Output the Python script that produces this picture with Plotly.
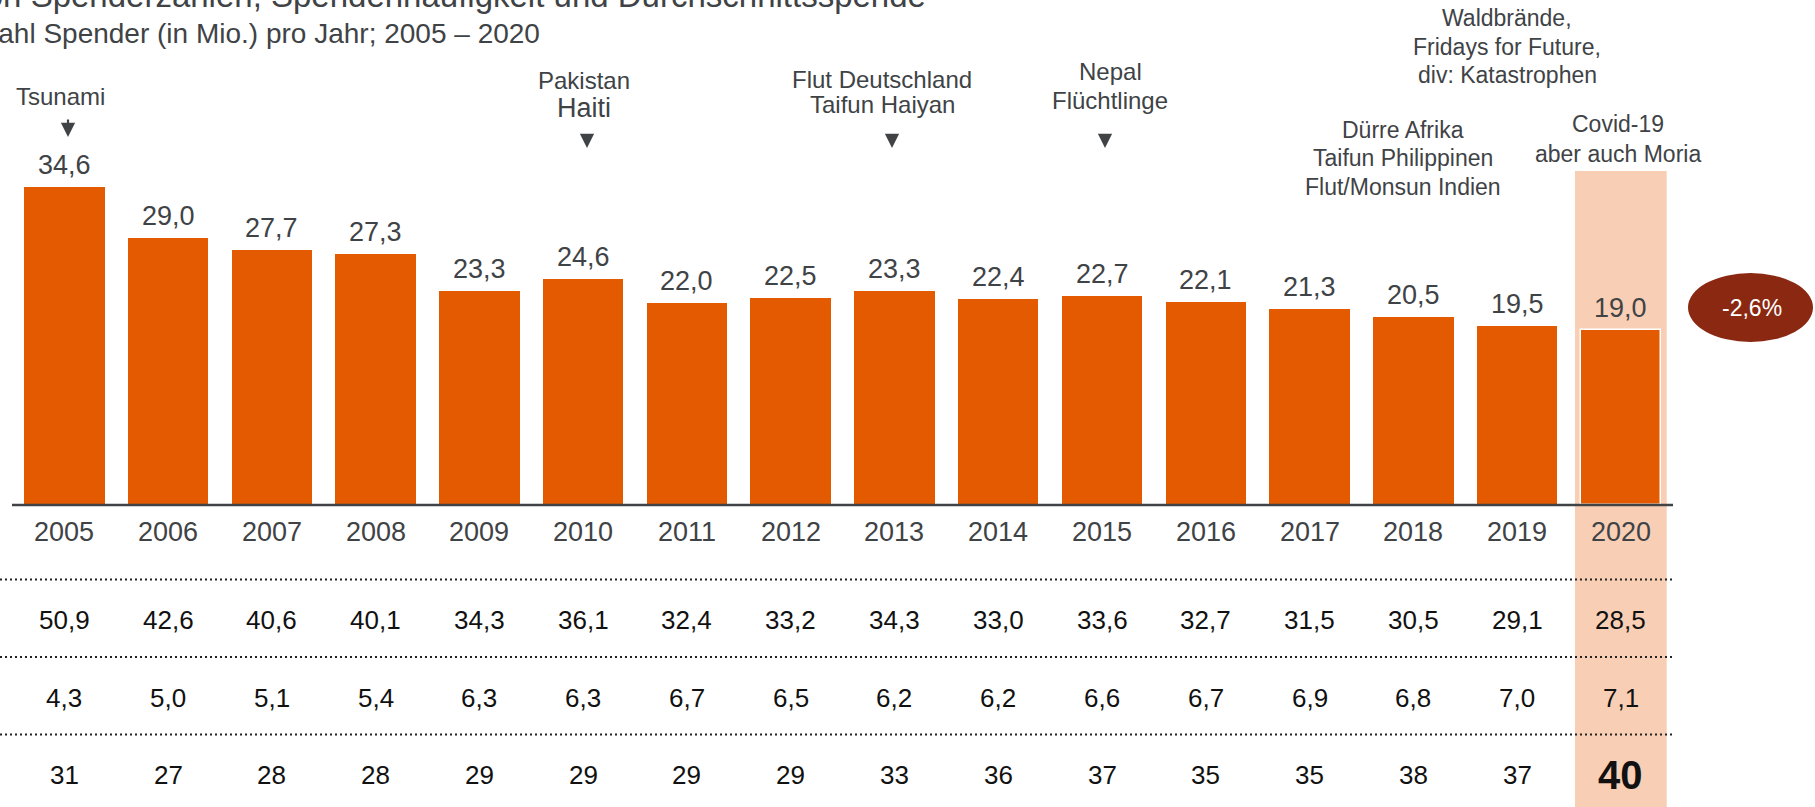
import plotly.graph_objects as go

# --- data -------------------------------------------------------------
years = list(range(2005, 2021))
donors_mio = [34.6, 29.0, 27.7, 27.3, 23.3, 24.6, 22.0, 22.5,
              23.3, 22.4, 22.7, 22.1, 21.3, 20.5, 19.5, 19.0]
share_pct = [50.9, 42.6, 40.6, 40.1, 34.3, 36.1, 32.4, 33.2,
             34.3, 33.0, 33.6, 32.7, 31.5, 30.5, 29.1, 28.5]
frequency = [4.3, 5.0, 5.1, 5.4, 6.3, 6.3, 6.7, 6.5,
             6.2, 6.2, 6.6, 6.7, 6.9, 6.8, 7.0, 7.1]
avg_gift_eur = [31, 27, 28, 28, 29, 29, 29, 29,
                33, 36, 37, 35, 35, 38, 37, 40]
change_label = "-2,6%"
title_text = "Entwicklung von Spenderzahlen, Spendenhäufigkeit und Durchschnittsspende"
subtitle_text = "Anzahl Spender (in Mio.) pro Jahr; 2005 – 2020"

# event notes above the bars (year, lines)
events = [
    (2005, ["Tsunami"]),
    (2010, ["Pakistan", "Haiti"]),
    (2013, ["Flut Deutschland", "Taifun Haiyan"]),
    (2015, ["Nepal", "Flüchtlinge"]),
    (2018, ["Dürre Afrika", "Taifun Philippinen", "Flut/Monsun Indien"]),
    (2019, ["Waldbrände,", "Fridays for Future,", "div: Katastrophen"]),
    (2020, ["Covid-19", "aber auch Moria"]),
]

# --- canvas geometry --------------------------------------------------
W, H = 1815, 807
X0_PX, PITCH_PX = 64.3, 103.77      # centre of first bar, bar spacing
BASE_PX, UNIT_PX = 505.0, 9.19      # baseline, pixels per million

def px_x(px):
    return px / W

def px_y(py):
    return 1 - py / H

x_range = [2005 - X0_PX / PITCH_PX, 2005 + (W - X0_PX) / PITCH_PX]
y_range = [(BASE_PX - H) / UNIT_PX, BASE_PX / UNIT_PX]

FONT = "Liberation Sans, Arial, Helvetica, sans-serif"
GREY = "#404346"
ORANGE = "#E35A00"
PEACH = "#F8CFB5"

def de(v):
    return f"{v:.1f}".replace(".", ",")

last = years[-1]

fig = go.Figure()
fig.add_trace(go.Bar(
    x=years, y=donors_mio, width=0.776,
    marker=dict(color=ORANGE,
                line=dict(color=["white" if y == last else ORANGE for y in years],
                          width=[1.5 if y == last else 0 for y in years])),
    hoverinfo="skip", showlegend=False,
))

shapes = []
# highlight column for the latest year
shapes.append(dict(type="rect", xref="x", yref="paper",
                   x0=last - 0.442, x1=last + 0.442,
                   y0=0, y1=px_y(171),
                   fillcolor=PEACH, line=dict(width=0), layer="below"))
# baseline
shapes.append(dict(type="line", xref="paper", yref="paper",
                   x0=px_x(12), x1=px_x(1673), y0=px_y(BASE_PX), y1=px_y(BASE_PX),
                   line=dict(color=GREY, width=2.5)))
# dotted separators of the table
for py in (579.5, 657, 734.5):
    shapes.append(dict(type="line", xref="paper", yref="paper",
                       x0=0, x1=px_x(1673), y0=px_y(py), y1=px_y(py),
                       line=dict(color="#222222", width=2, dash="2px,3px")))
# change bubble
shapes.append(dict(type="circle", xref="paper", yref="paper",
                   x0=px_x(1688), x1=px_x(1813), y0=px_y(342), y1=px_y(273),
                   fillcolor="#8A2812", line=dict(width=0)))

ann = []
# value labels on the bars
for yr, v in zip(years, donors_mio):
    ann.append(dict(x=yr, y=v, xref="x", yref="y", text=de(v), showarrow=False,
                    xanchor="center", yanchor="middle", yshift=22,
                    font=dict(family=FONT, size=27, color=GREY)))
# year labels
for yr in years:
    ann.append(dict(x=yr, y=px_y(532), xref="x", yref="paper", text=str(yr),
                    showarrow=False, xanchor="center", yanchor="middle",
                    font=dict(family=FONT, size=27, color=GREY)))
# table rows
rows = [([de(v) for v in share_pct], 620),
        ([de(v) for v in frequency], 698),
        ([str(v) for v in avg_gift_eur], 775)]
for vals, py in rows:
    for yr, t in zip(years, vals):
        is_last_big = (py == 775 and yr == last)
        ann.append(dict(x=yr, y=px_y(py), xref="x", yref="paper",
                        text=f"<b>{t}</b>" if is_last_big else t,
                        showarrow=False, xanchor="center", yanchor="middle",
                        font=dict(family=FONT, size=40 if is_last_big else 26,
                                  color="#111111")))

# event notes: centre x, first line centre y, line spacing, font size,
# arrow (x, top, tip)
note_layout = {
    2005: (60, 97, 0, 24, (68, 118, 137)),
    2010: (584, 81, 27, 24, (587, 133, 148)),
    2013: (882, 79, 26, 24, (892, 133, 148)),
    2015: (1110, 71, 29, 24, (1105, 133, 148)),
    2018: (1403, 130, 28.5, 23, None),
    2019: (1507, 18, 28.5, 23, None),
    2020: (1618, 124, 30, 23, None),
}
for yr, lines in events:
    cx, cy, dy, fs, arrow = note_layout[yr]
    for i, line in enumerate(lines):
        size = 27 if line == "Haiti" else fs
        ann.append(dict(x=px_x(cx), y=px_y(cy + i * dy), xref="paper", yref="paper",
                        text=line, showarrow=False, xanchor="center", yanchor="middle",
                        font=dict(family=FONT, size=size, color=GREY)))
    if arrow:
        axp, top, tip = arrow
        ann.append(dict(x=px_x(axp), y=px_y(tip), xref="paper", yref="paper",
                        ax=0, ay=-(tip - top), axref="pixel", ayref="pixel",
                        text="", showarrow=True, arrowhead=2, arrowsize=1.3,
                        arrowwidth=2.2, arrowcolor=GREY))

# bubble text
ann.append(dict(x=px_x(1752), y=px_y(308), xref="paper", yref="paper",
                text=change_label, showarrow=False, xanchor="center", yanchor="middle",
                font=dict(family=FONT, size=23, color="white")))
# headings (run past the left edge)
ann.append(dict(x=px_x(928), y=px_y(-5), xref="paper", yref="paper",
                text=title_text, showarrow=False, xanchor="right", yanchor="middle",
                font=dict(family=FONT, size=33, color=GREY)))
ann.append(dict(x=px_x(542), y=px_y(33), xref="paper", yref="paper",
                text=subtitle_text, showarrow=False, xanchor="right", yanchor="middle",
                font=dict(family=FONT, size=28, color=GREY)))

fig.update_layout(
    width=W, height=H,
    margin=dict(l=0, r=0, t=0, b=0),
    paper_bgcolor="white", plot_bgcolor="rgba(0,0,0,0)",
    xaxis=dict(range=x_range, visible=False, fixedrange=True),
    yaxis=dict(range=y_range, visible=False, fixedrange=True),
    shapes=shapes, annotations=ann, bargap=0,
)

fig.write_html("out.html", config={"displayModeBar": False})
